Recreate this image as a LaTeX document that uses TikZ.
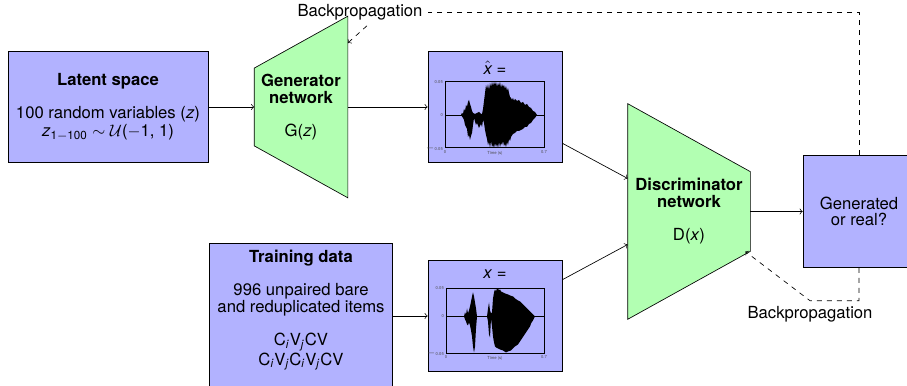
\documentclass[tikz,border=0pt]{standalone}
\usepackage{fontspec}
\setmainfont{TeX Gyre Heros}
\usetikzlibrary{backgrounds}

\begin{document}
\begin{tikzpicture}
  [
    ->,
    >=to,
    node distance=116.4pt,
    box/.style={draw, fill=blue!30, align=center, font=\fontsize{10}{10}\selectfont},
    net/.style={align=center, font=\fontsize{10}{10}\selectfont},
    wave box/.style={draw, fill=blue!30, minimum width=80.4pt, minimum height=66.6pt},
    back/.style={dashed},
    tick/.style={font=\fontsize{2.5}{2.5}\selectfont, text=black!70, inner sep=0.5pt}
    ]

  \useasboundingbox (-64.8pt,-167.4pt) rectangle (479.4pt,64.2pt);

  \node[box, minimum width=120pt, minimum height=66.6pt] (latent) {\textbf{Latent space}\\[10pt]100 random variables (\textit{z})\\[0.6pt]\textit{z}\textsubscript{1$-$100} $\sim\mathcal{U}$($-$1, 1)};
  \node[net, minimum width=55.8pt, minimum height=108.6pt] (gen) [right of=latent, node distance=115.8pt] {\textbf{Generator}\\\textbf{network}\\[10pt]G(\textit{z})};
  \node[wave box] (xhat) [right of=gen] {};
  \node[net, minimum width=73.2pt, minimum height=129pt] (disc) [right of=xhat, yshift=-62.7pt] {\textbf{Discriminator}\\\textbf{network}\\[10pt]D(\textit{x})};
  \node[box, minimum width=67.2pt, minimum height=67.2pt] (out) [right of=disc, node distance=102pt] {Generated\\or real?};
  \node[box, minimum width=109.8pt, minimum height=87pt] (train) [below of=gen, node distance=125.4pt] {\textbf{Training data}\\[10pt]996 unpaired bare\\and reduplicated items\\[10pt]C\textsubscript{\textit{i}}V\textsubscript{\textit{j}}CV\\C\textsubscript{\textit{i}}V\textsubscript{\textit{j}}C\textsubscript{\textit{i}}V\textsubscript{\textit{j}}CV\\\mbox{}};
  \node[wave box] (xreal) [right of=train] {};

  \node[net] (xhattitle) [above of=xhat, node distance=23.4pt] {$\hat{\textit{x}}$ =};
  \node[net] (xrealtitle) [above of=xreal, node distance=24.9pt] {\textit{x} =};

  \node[net] (backtop) [above of=gen, node distance=57pt, xshift=35.4pt] {Backpropagation};
  \node[net] (backbot) [below of=out, node distance=61.8pt, xshift=-29.4pt] {Backpropagation};

  \coordinate (gtip) at ([yshift=38.4pt]gen.east);
  \coordinate (dtip) at ([xshift=-3pt,yshift=-24pt]disc.east);

  % network bodies
  \begin{scope}[on background layer, -]
    \draw[fill=green!30] (gen.north east) -- (gen.south east) -- ([yshift=31.2pt]gen.south west) -- ([yshift=-31.2pt]gen.north west) -- cycle;
    \draw[fill=green!30] (disc.north west) -- (disc.south west) -- ([yshift=40.8pt]disc.south east) -- ([yshift=-40.8pt]disc.north east) -- cycle;
  \end{scope}

  % generated waveform
  \begin{scope}[shift={(xhat.center)}, x=0.6pt, y=0.6pt, -]
    \draw[line width=0.6pt] (-50,-41) rectangle (49,25);
    \node[tick, anchor=east] (xhatya) at (-51,25) {0.05};
    \node[tick, anchor=east] (xhatyb) at (-51,-8) {0};
    \node[tick, anchor=east] (xhatyc) at (-51,-41) {$-$0.05};
    \node[tick, anchor=north] (xhatxa) at (-50,-42) {0};
    \node[tick, anchor=north] (xhatxb) at (0,-43) {Time (s)};
    \node[tick, anchor=north] (xhatxc) at (49,-42) {0.7};
    \begin{scope}[shift={(0,-8)}]
      \draw (-50,0) -- (49,0);
      \fill (-34,0) -- (-33,2) -- (-32,1) -- (-31,6) -- (-30,4) -- (-29,10) -- (-28,8) -- (-27,13) -- (-26,15) -- (-25,11) -- (-24,8) -- (-23,4) -- (-22,2) -- (-20,1) -- (-18,2) -- (-16,3) -- (-14,1) -- (-13,1) -- (-12,6) -- (-11,14) -- (-10,22) -- (-9,30) -- (-8,26) -- (-7,31) -- (-6,25) -- (-5,32) -- (-4,28) -- (-3,33) -- (-2,29) -- (-1,33) -- (0,30) -- (1,33) -- (2,28) -- (3,32) -- (4,29) -- (5,33) -- (6,27) -- (7,31) -- (8,28) -- (9,30) -- (10,26) -- (11,29) -- (12,24) -- (13,27) -- (14,22) -- (15,18) -- (16,17) -- (17,15) -- (18,17) -- (19,14) -- (20,16) -- (22,14) -- (24,15) -- (26,12) -- (28,13) -- (30,10) -- (32,11) -- (34,8) -- (36,7) -- (38,4) -- (40,3) -- (42,0) -- (40,-3) -- (38,-5) -- (36,-8) -- (34,-9) -- (32,-12) -- (30,-12) -- (28,-14) -- (26,-15) -- (24,-16) -- (22,-16) -- (20,-18) -- (18,-19) -- (16,-22) -- (15,-26) -- (14,-24) -- (13,-30) -- (12,-27) -- (11,-32) -- (10,-29) -- (9,-31) -- (8,-26) -- (7,-30) -- (6,-28) -- (5,-32) -- (4,-27) -- (3,-33) -- (2,-29) -- (1,-32) -- (0,-28) -- (-1,-33) -- (-2,-30) -- (-3,-32) -- (-4,-26) -- (-5,-33) -- (-6,-27) -- (-7,-30) -- (-8,-24) -- (-9,-20) -- (-10,-15) -- (-11,-8) -- (-12,-5) -- (-13,-12) -- (-14,-9) -- (-16,-13) -- (-18,-8) -- (-19,-10) -- (-21,-3) -- (-22,-10) -- (-23,-18) -- (-24,-21) -- (-25,-25) -- (-26,-20) -- (-27,-22) -- (-28,-14) -- (-30,-10) -- (-31,-5) -- (-32,-3) -- cycle;
    \end{scope}
  \end{scope}

  % real waveform
  \begin{scope}[shift={(xreal.center)}, x=0.6pt, y=0.6pt, -]
    \draw[line width=0.6pt] (-49,-37.5) rectangle (49,27.5);
    \node[tick, anchor=east] (xrealya) at (-50,27.5) {0.05};
    \node[tick, anchor=east] (xrealyb) at (-50,-0.5) {0};
    \node[tick, anchor=east] (xrealyc) at (-50,-37.5) {$-$0.05};
    \node[tick, anchor=north] (xrealxa) at (-49,-38.5) {0};
    \node[tick, anchor=north] (xrealxb) at (0,-39.5) {Time (s)};
    \node[tick, anchor=north] (xrealxc) at (49,-38.5) {0.7};
    \begin{scope}[shift={(0,-0.5)}]
      \draw (-49,0) -- (49,0);
      \fill (-31,0) -- (-30,4) -- (-29,2) -- (-28,8) -- (-27,3) -- (-26,6) -- (-25,10) -- (-24,15) -- (-23,20) -- (-22,24) -- (-21,20) -- (-20,14) -- (-19,8) -- (-18,0) -- (-8,0) -- (-7,8) -- (-6,14) -- (-5,6) -- (-4,3) -- (-3,4) -- (-2,18) -- (-1,24) -- (0,27) -- (1,25) -- (2,28) -- (3,28) -- (4,26) -- (5,27) -- (6,25) -- (8,24) -- (10,23) -- (13,22) -- (15,21) -- (18,20) -- (20,18) -- (23,16) -- (25,15) -- (28,12) -- (30,10) -- (33,7) -- (35,5) -- (37,3) -- (40,0) -- (38,-4) -- (36,-7) -- (35,-10) -- (33,-13) -- (31,-16) -- (29,-19) -- (27,-22) -- (25,-25) -- (23,-28) -- (20,-30) -- (18,-32) -- (16,-34) -- (13,-35) -- (11,-36) -- (8,-34) -- (5,-33) -- (3,-32) -- (1,-31) -- (0,-30) -- (-1,-26) -- (-2,-20) -- (-3,-10) -- (-4,-2) -- (-5,-21) -- (-6,-18) -- (-7,-5) -- (-8,0) -- (-18,0) -- (-19,-12) -- (-20,-30) -- (-21,-36) -- (-22,-30) -- (-23,-20) -- (-24,-14) -- (-25,-9) -- (-26,-6) -- (-27,-9) -- (-28,-8) -- (-29,-5) -- (-30,-3) -- cycle;
    \end{scope}
  \end{scope}

  \draw (latent) -- (gen);
  \draw (gen) -- (xhat);
  \draw (train) -- (xreal);
  \draw (xhat) -- (disc);
  \draw (xreal) -- (disc);
  \draw (disc) -- (out);

  % backpropagation paths
  \draw[back, -] (out) |- (backtop);
  \draw[back] ([xshift=4.2pt]backtop.south) -- (gtip);
  \draw[back] (out) |- (backbot.north) -- (dtip);
\end{tikzpicture}
\end{document}
